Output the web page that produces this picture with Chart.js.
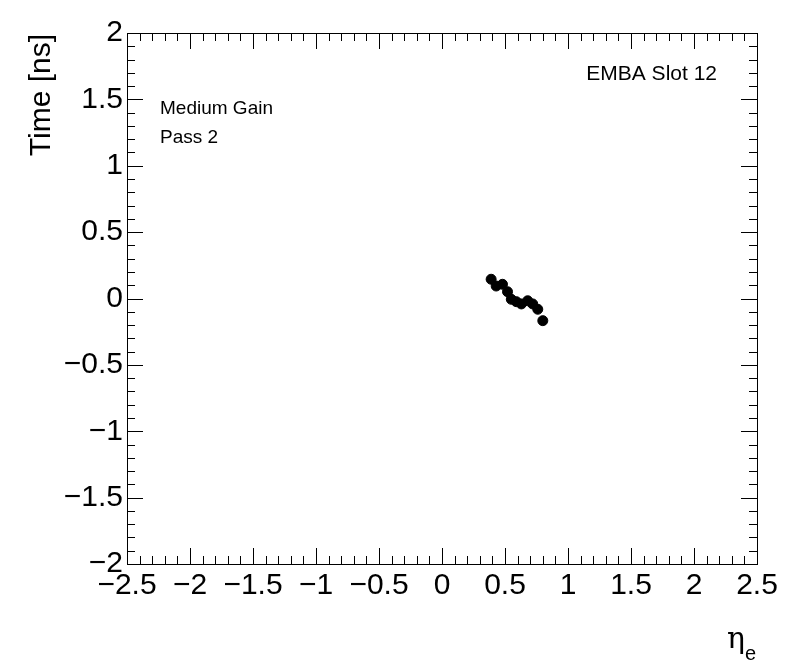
<!DOCTYPE html>
<html>
<head>
<meta charset="utf-8">
<script src="https://cdn.jsdelivr.net/npm/chart.js@4"></script>
<style>
  html, body { margin: 0; padding: 0; background: #fff; }
  canvas { display: block; }
</style>
</head>
<body>
<canvas id="timeChart" width="796" height="672"></canvas>
<script>
// Data
const etaValues  = [0.39, 0.43, 0.48, 0.52, 0.55, 0.59, 0.63, 0.68, 0.72, 0.76, 0.80];
const timeValues = [0.145, 0.094, 0.107, 0.051, -0.006, -0.024, -0.041, -0.017, -0.041, -0.081, -0.167];

const xTickValues = [-2.5, -2, -1.5, -1, -0.5, 0, 0.5, 1, 1.5, 2, 2.5];
const yTickValues = [-2, -1.5, -1, -0.5, 0, 0.5, 1, 1.5, 2];

const FONT = '"Liberation Sans", Arial, Helvetica, sans-serif';

// ROOT style number: real minus sign
function fmt(v) {
  const s = String(v);
  return v < 0 ? '\u2212' + s.slice(1) : s;
}

// Frame, inward ticks on all sides and the text labels
const rootFrame = {
  id: 'rootFrame',
  afterDraw(chart) {
    const { ctx, chartArea: a, scales: { x, y } } = chart;
    ctx.save();
    ctx.strokeStyle = '#000';
    ctx.lineWidth = 1;
    ctx.strokeRect(a.left + 0.5, a.top + 0.5, a.right - a.left, a.bottom - a.top);

    ctx.beginPath();
    for (let i = 0; i <= 50; i++) {
      const v = -2.5 + i * 0.1;
      const px = Math.round(x.getPixelForValue(v)) + 0.5;
      const len = i % 5 === 0 ? 16 : 8;
      ctx.moveTo(px, a.bottom); ctx.lineTo(px, a.bottom - len);
      ctx.moveTo(px, a.top); ctx.lineTo(px, a.top + len);
    }
    for (let i = 0; i <= 40; i++) {
      const v = -2 + i * 0.1;
      const py = Math.round(y.getPixelForValue(v)) + 0.5;
      const len = i % 5 === 0 ? 16 : 8;
      ctx.moveTo(a.left, py); ctx.lineTo(a.left + len, py);
      ctx.moveTo(a.right, py); ctx.lineTo(a.right - len, py);
    }
    ctx.stroke();

    ctx.fillStyle = '#000';
    // axis titles
    ctx.font = '30px ' + FONT;
    ctx.save();
    ctx.translate(50, 34);
    ctx.rotate(-Math.PI / 2);
    ctx.textAlign = 'right';
    ctx.textBaseline = 'alphabetic';
    ctx.fillText('Time [ns]', 0, 0);
    ctx.restore();

    ctx.textAlign = 'left';
    ctx.font = '30px "DejaVu Serif", serif';
    ctx.fillText('\u03B7', 727, 648);
    ctx.font = '20px ' + FONT;
    ctx.fillText('e', 745, 660);

    // labels
    ctx.font = '19px ' + FONT;
    ctx.fillText('Medium Gain', 160, 114);
    ctx.fillText('Pass 2', 160, 143);
    ctx.textAlign = 'right';
    ctx.font = '21px ' + FONT;
    ctx.fillText('EMBA Slot 12', 717, 80);
    ctx.restore();
  }
};

new Chart(document.getElementById('timeChart'), {
  type: 'scatter',
  data: {
    datasets: [{
      data: etaValues.map((e, i) => ({ x: e, y: timeValues[i] })),
      backgroundColor: '#000',
      borderColor: '#000',
      pointRadius: 5,
      pointHoverRadius: 5
    }]
  },
  options: {
    responsive: false,
    animation: false,
    events: [],
    layout: { padding: { left: 0, top: 33, right: 39, bottom: 0 } },
    plugins: { legend: { display: false }, tooltip: { enabled: false } },
    scales: {
      x: {
        type: 'linear',
        min: -2.5, max: 2.5,
        afterBuildTicks: s => { s.ticks = xTickValues.map(v => ({ value: v })); },
        afterFit: s => { s.height = 108; },
        grid: { display: false, drawTicks: false },
        border: { display: false },
        ticks: {
          autoSkip: false, maxRotation: 0, padding: 4, color: '#000',
          font: { family: FONT, size: 30 },
          callback: v => fmt(v)
        }
      },
      y: {
        type: 'linear',
        min: -2, max: 2,
        afterBuildTicks: s => { s.ticks = yTickValues.map(v => ({ value: v })); },
        afterFit: s => { s.width = 127; },
        grid: { display: false, drawTicks: false },
        border: { display: false },
        ticks: {
          autoSkip: false, padding: 4, color: '#000',
          font: { family: FONT, size: 30 },
          callback: v => fmt(v)
        }
      }
    }
  },
  plugins: [rootFrame]
});
</script>
</body>
</html>
